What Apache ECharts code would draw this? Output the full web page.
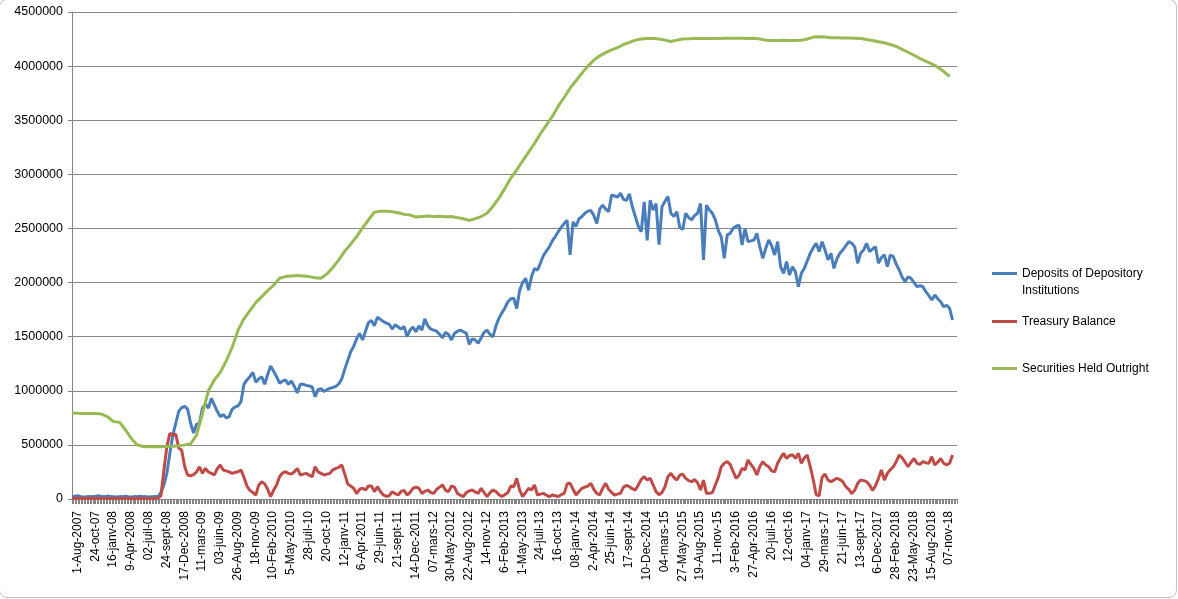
<!DOCTYPE html>
<html>
<head>
<meta charset="utf-8">
<script src="https://cdn.jsdelivr.net/npm/echarts@6/dist/echarts.min.js"></script>
<style>
html,body{margin:0;padding:0;background:#fff;overflow:hidden;}
#frame{position:absolute;left:-1px;top:-1px;width:1178px;height:599px;border:1px solid #c4c4c4;border-radius:8px;box-sizing:border-box;}
#chart{position:absolute;left:0;top:0;width:1178px;height:599px;}
</style>
</head>
<body>
<div id="frame"></div>
<div id="chart"></div>
<script>
// Weekly observations starting 1-Aug-2007; tick labels every 12 weeks
const tickLabels = ['1-Aug-2007','24-oct-07','16-janv-08','9-Apr-2008','02-juil-08','24-sept-08','17-Dec-2008','11-mars-09','03-juin-09','26-Aug-2009',
'18-nov-09','10-Feb-2010','5-May-2010','28-juil-10','20-oct-10','12-janv-11','6-Apr-2011','29-juin-11','21-sept-11','14-Dec-2011',
'07-mars-12','30-May-2012','22-Aug-2012','14-nov-12','6-Feb-2013','1-May-2013','24-juil-13','16-oct-13','08-janv-14','2-Apr-2014',
'25-juin-14','17-sept-14','10-Dec-2014','04-mars-15','27-May-2015','19-Aug-2015','11-nov-15','3-Feb-2016','27-Apr-2016','20-juil-16',
'12-oct-16','04-janv-17','29-mars-17','21-juin-17','13-sept-17','6-Dec-2017','28-Feb-2018','23-May-2018','15-Aug-2018','07-nov-18'];
const TICK_WEEKS = 12;
const LAST_WEEK = 597;

const seriesNames = ['Deposits of Depository Institutions','Treasury Balance','Securities Held Outright'];

// values in thousands, one value every 2 weeks
const DEPOSITS_STEP = 2;
const depositsK = [
20,25,30,22,18,20,22,20,25,30,
22,20,28,22,20,18,22,20,25,20,
18,22,20,25,20,22,18,20,22,20,
60,130,240,420,590,700,810,845,855,830,
700,610,690,700,840,880,840,930,870,810,
760,780,750,760,830,850,860,900,1060,1100,
1130,1170,1080,1110,1130,1060,1150,1230,1180,1130,
1070,1090,1100,1060,1090,1040,980,1060,1060,1050,
1045,1035,945,1010,1020,995,1010,1023,1030,1040,
1065,1110,1200,1280,1360,1410,1480,1530,1470,1550,
1630,1650,1600,1680,1660,1640,1625,1615,1570,1610,
1590,1570,1595,1500,1560,1590,1545,1600,1560,1665,
1600,1570,1560,1550,1520,1490,1540,1520,1470,1530,
1550,1560,1545,1530,1430,1480,1470,1440,1490,1540,
1560,1520,1500,1600,1670,1720,1765,1820,1850,1855,
1760,1930,2000,2040,1930,2055,2130,2115,2180,2250,
2290,2330,2385,2425,2470,2510,2545,2575,2255,2560,
2520,2590,2610,2640,2660,2665,2620,2545,2680,2715,
2680,2655,2810,2800,2790,2825,2770,2760,2820,2700,
2610,2520,2470,2745,2390,2760,2670,2730,2350,2700,
2750,2795,2640,2610,2655,2510,2490,2640,2600,2580,
2620,2640,2730,2210,2715,2670,2640,2580,2480,2420,
2225,2440,2455,2500,2520,2530,2347,2500,2380,2385,
2393,2455,2330,2224,2316,2393,2340,2255,2378,2147,
2085,2193,2070,2147,2100,1962,2085,2131,2200,2270,
2320,2363,2286,2378,2300,2209,2270,2131,2220,2270,
2301,2340,2378,2363,2330,2178,2270,2300,2363,2286,
2310,2332,2178,2230,2255,2147,2255,2240,2170,2116,
2050,2008,2054,2039,2000,1962,1970,1962,1916,1880,
1839,1885,1850,1823,1777,1790,1762,1654];

const TREASURY_STEP = 2;
const treasuryK = [
8,10,6,8,5,7,9,6,8,5,
7,6,8,5,6,7,5,6,8,5,
6,5,7,5,6,5,6,5,6,8,
30,268,483,607,590,600,470,450,300,222,
215,225,250,298,237,283,250,237,222,280,
314,268,260,250,237,245,252,268,200,120,
80,60,37,130,160,140,90,22,80,130,
206,240,252,237,230,252,283,222,230,237,
220,206,298,250,237,222,230,237,270,283,
293,314,230,140,120,99,50,90,100,83,
120,120,68,114,70,37,25,30,68,50,
37,70,80,37,60,99,110,100,52,70,
83,60,52,90,110,130,80,68,120,110,
52,35,22,60,75,83,65,52,99,60,
22,60,83,68,40,22,40,60,120,114,
191,83,22,60,99,83,130,37,45,52,
35,22,37,30,22,40,52,140,145,90,
37,70,99,110,120,145,90,52,37,100,
145,90,60,37,45,52,110,125,114,95,
83,130,180,206,175,191,130,68,40,60,
114,206,237,200,175,220,230,191,170,160,
180,150,83,175,52,52,60,130,200,298,
330,345,320,252,191,220,283,268,360,320,
283,222,300,345,314,298,260,250,330,380,
422,375,400,410,375,422,330,380,406,300,
180,40,30,200,230,175,160,175,191,180,
160,114,90,50,80,145,175,170,160,130,
80,120,190,268,175,237,270,298,345,406,
380,340,298,340,375,330,320,345,335,330,
391,314,340,375,330,314,330,406];

// one value every 4 weeks
const SECURITIES_STEP = 4;
const securitiesK = [
795,792,790,790,790,785,760,715,710,640,
560,500,485,483,483,483,485,488,492,500,
510,590,790,1000,1100,1170,1275,1400,1560,1665,
1740,1815,1870,1925,1975,2040,2055,2060,2065,2060,
2055,2045,2040,2080,2140,2210,2290,2355,2425,2505,
2580,2650,2660,2660,2655,2645,2630,2625,2605,2610,
2615,2610,2612,2608,2610,2600,2590,2575,2590,2610,
2640,2705,2780,2870,2965,3040,3125,3205,3285,3375,
3455,3535,3630,3710,3796,3865,3935,4000,4055,4095,
4125,4150,4170,4200,4220,4240,4250,4255,4255,4250,
4240,4228,4240,4250,4252,4255,4255,4255,4255,4255,
4258,4258,4258,4258,4255,4258,4250,4240,4236,4236,
4238,4236,4236,4238,4250,4268,4272,4268,4262,4262,
4260,4260,4258,4255,4245,4236,4225,4215,4200,4182,
4155,4128,4100,4070,4045,4020,3992,3950,3905];

const colors = ['#4A7EBB','#BE4B48','#98B954'];
const toPairs = (arr, step) => arr.map((v, i) => [i * step, v]);

const chart = echarts.init(document.getElementById('chart'), null, {renderer:'canvas'});
const font = 'Liberation Sans, Arial, sans-serif';
const legendBase = {
  orient:'vertical', left:992, padding:0, icon:'rect', itemWidth:25, itemHeight:3,
  textStyle:{fontFamily:font, fontSize:12, color:'#000', lineHeight:17},
  selectedMode:false
};
chart.setOption({
  animation:false,
  color: colors,
  grid:{left:72, top:12, right:221, bottom:100, containLabel:false},
  xAxis:{
    type:'value', min:0, max:LAST_WEEK, interval:TICK_WEEKS,
    axisLine:{show:true, lineStyle:{color:'#868686', width:1}},
    axisTick:{show:true, length:5, lineStyle:{color:'#868686'}},
    minorTick:{show:true, splitNumber:12, length:5, lineStyle:{color:'#868686'}},
    splitLine:{show:false},
    axisLabel:{
      rotate:90, margin:12, lineHeight:11, verticalAlign:'top', fontFamily:font, fontSize:12, color:'#000',
      showMinLabel:true, hideOverlap:false,
      formatter:(v)=>{ if (v % TICK_WEEKS !== 0) return ''; const k = v / TICK_WEEKS; return tickLabels[k] || ''; }
    }
  },
  yAxis:{
    type:'value', min:0, max:4500, interval:500,
    axisLine:{show:true, lineStyle:{color:'#868686', width:1}},
    axisTick:{show:true, length:4, lineStyle:{color:'#868686'}},
    splitLine:{show:true, lineStyle:{color:'#868686', width:1}},
    axisLabel:{margin:9, fontFamily:font, fontSize:12.5, color:'#000', formatter:(v)=>String(v*1000)}
  },
  legend:[
    Object.assign({}, legendBase, {top:248, data:[seriesNames[0]],
      formatter:()=> '\nDeposits of Depository\nInstitutions'}),
    Object.assign({}, legendBase, {top:313, data:[seriesNames[1]]}),
    Object.assign({}, legendBase, {top:360, data:[seriesNames[2]]})
  ],
  series:[
    {name:seriesNames[0], type:'line', data:toPairs(depositsK, DEPOSITS_STEP), symbol:'none', lineStyle:{width:3, color:colors[0]}, itemStyle:{color:colors[0]}},
    {name:seriesNames[1], type:'line', data:toPairs(treasuryK, TREASURY_STEP), symbol:'none', lineStyle:{width:3, color:colors[1]}, itemStyle:{color:colors[1]}},
    {name:seriesNames[2], type:'line', data:toPairs(securitiesK, SECURITIES_STEP), symbol:'none', lineStyle:{width:3, color:colors[2]}, itemStyle:{color:colors[2]}}
  ]
});
</script>
</body>
</html>
